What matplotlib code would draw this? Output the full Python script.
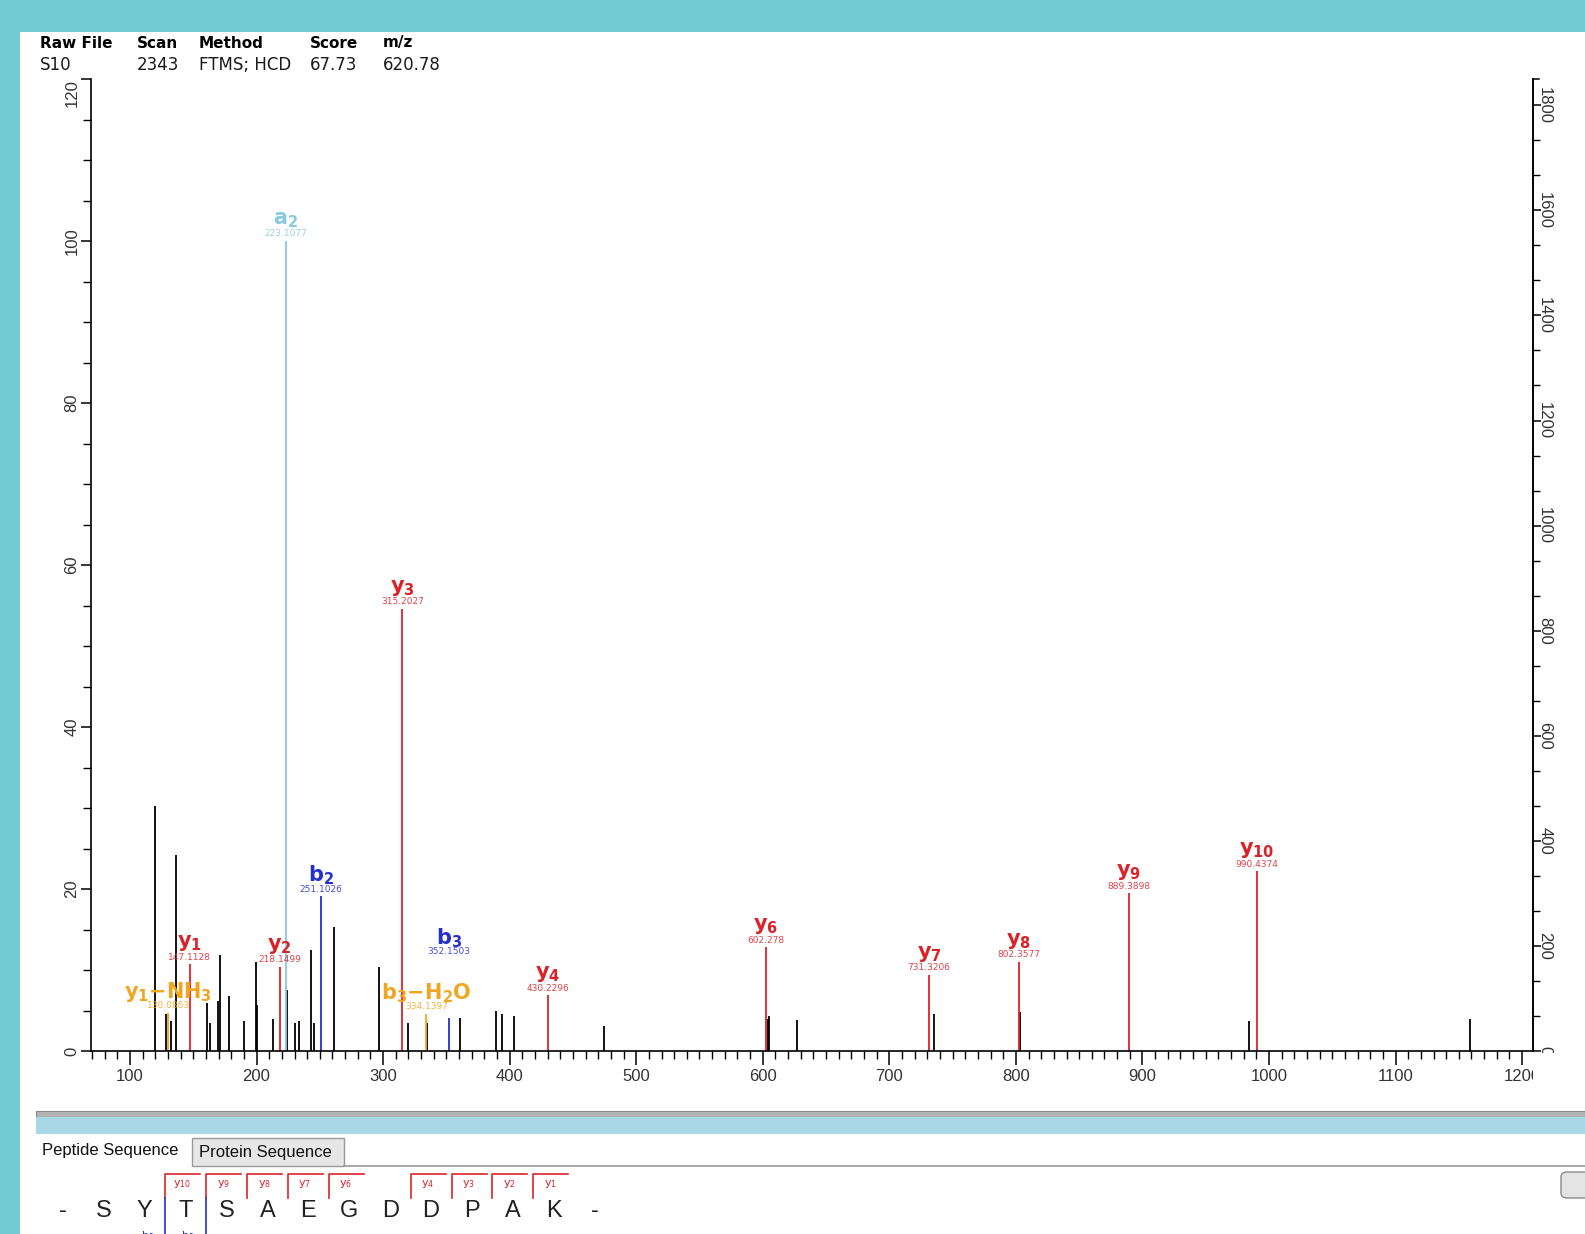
import numpy as np
import matplotlib.pyplot as plt
from matplotlib.patches import Rectangle, FancyBboxPatch
from matplotlib.lines import Line2D
from matplotlib.ticker import MultipleLocator
from matplotlib.transforms import Bbox

W, H = 1585, 1234

### ----- Daten ----- ###
# unbeschriftete Peaks (m/z, relative Intensitaet %)
other_mz = [120.0, 128.4, 132.4, 136.1, 160.8, 163.4, 169.5, 170.8, 178.4, 189.7,
            199.4, 200.5, 213.1, 224.1, 230.4, 233.9, 242.8, 245.2, 261.5, 296.6,
            320.0, 334.7, 360.9, 389.6, 393.6, 403.4, 474.4, 604.3, 605.0, 627.1,
            735.0, 803.3, 984.4, 1158.9]
other_int = [30.2, 4.6, 3.7, 24.2, 5.9, 3.5, 6.2, 11.9, 6.8, 3.7,
             11.0, 5.7, 3.9, 7.5, 3.5, 3.7, 12.5, 3.5, 15.3, 10.4,
             3.5, 3.5, 4.1, 5.0, 4.6, 4.3, 3.1, 4.0, 4.3, 3.8,
             4.6, 4.8, 3.7, 3.9]

# beschriftete Fragmente
ion_names = ['y1-NH3', 'y1', 'y2', 'a2', 'b2', 'y3', 'b3-H2O', 'b3', 'y4',
             'y6', 'y7', 'y8', 'y9', 'y10']
ion_mz = [130.0863, 147.1128, 218.1499, 223.1077, 251.1026, 315.2027, 334.1397,
          352.1503, 430.2296, 602.278, 731.3206, 802.3577, 889.3898, 990.4374]
ion_mz_text = ['130.0863', '147.1128', '218.1499', '223.1077', '251.1026', '315.2027',
               '334.1397', '352.1503', '430.2296', '602.278', '731.3206', '802.3577',
               '889.3898', '990.4374']
ion_int = [4.7, 10.7, 10.4, 100.0, 19.1, 54.6, 4.6, 4.1, 6.9,
           12.8, 9.4, 11.0, 19.5, 22.2]

# Kopfzeile
header_cols = ['Raw File', 'Scan', 'Method', 'Score', 'm/z']
header_vals = ['S10', '2343', 'FTMS; HCD', '67.73', '620.78']

# Peptidsequenz
sequence = ['-', 'S', 'Y', 'T', 'S', 'A', 'E', 'G', 'D', 'D', 'P', 'A', 'K', '-']
y_found = [1, 2, 3, 4, 6, 7, 8, 9, 10]
b_found = [2, 3]

# Farben
col_y = '#DC2229'
col_b = '#2530CC'
col_a = '#86C9E0'
col_loss = '#EFA722'
teal = '#70CBD3'

def ion_color(name):
    if '-' in name:
        return col_loss
    return {'y': col_y, 'b': col_b, 'a': col_a}[name[0]]

def ion_label(name):
    if '-' in name:
        base, loss = name.split('-')
        loss_tex = loss.replace('NH3', r'NH}_{\mathbf{3}}\mathbf{').replace('H2O', r'H}_{\mathbf{2}}\mathbf{O')
        return r'$\mathbf{%s}_{\mathbf{%s}}\mathbf{-%s}$' % (base[0], base[1:], loss_tex)
    return r'$\mathbf{%s}_{\mathbf{%s}}$' % (name[0], name[1:])

def fx(px):
    return px / W

def fy(py):
    return 1 - py / H

plt.rcParams['mathtext.fontset'] = 'dejavusans'

fig = plt.figure(figsize=(W / 100, H / 100), dpi=100)
fig.patch.set_facecolor(teal)
fig.add_artist(Rectangle((fx(20), 0), 1 - fx(20), fy(32), transform=fig.transFigure,
                         facecolor='white', edgecolor='none', zorder=-10))

# --- Hauptachse --- #
ax_left, ax_right, ax_top, ax_bottom = 90.5, 1533, 79, 1051
ax = fig.add_axes([fx(ax_left), fy(ax_bottom), fx(ax_right - ax_left), (ax_bottom - ax_top) / H])
ax.set_facecolor('none')
ax.set_xlim(68.8, 1208.6)
ax.set_ylim(0, 120)

ax.vlines(other_mz, 0, other_int, color='black', linewidth=1.3)
for name, mz, inten, txt in zip(ion_names, ion_mz, ion_int, ion_mz_text):
    c = ion_color(name)
    # b3 sitzt ueber der b3-H2O Beschriftung
    lift = 59 if name == 'b3' else 0
    ax.vlines(mz, 0, inten, color=c, linewidth=1.3)
    ax.annotate(txt, xy=(mz, inten), xytext=(0, 7 + lift), textcoords='offset pixels',
                ha='center', va='center', fontsize=6.5, color=c, alpha=0.85)
    ax.annotate(ion_label(name), xy=(mz, inten), xytext=(0, 21 + lift), textcoords='offset pixels',
                ha='center', va='center', fontsize=15, color=c)

ax.spines['top'].set_visible(False)
for s in ['left', 'bottom', 'right']:
    ax.spines[s].set_linewidth(1.2)

ax.xaxis.set_major_locator(MultipleLocator(100))
ax.xaxis.set_minor_locator(MultipleLocator(10))
ax.yaxis.set_major_locator(MultipleLocator(20))
ax.yaxis.set_minor_locator(MultipleLocator(5))
ax.tick_params(axis='x', which='major', length=10, width=1.1, pad=3, labelsize=12, labelcolor='#333333')
ax.tick_params(axis='x', which='minor', length=6, width=1.0)
ax.tick_params(axis='y', which='major', length=7, width=1.1, pad=1, labelsize=12, labelcolor='#333333')
ax.tick_params(axis='y', which='minor', length=6, width=1.0)
for lab in ax.get_xticklabels() + ax.get_yticklabels():
    lab.set_fontfamily('Liberation Sans')
for lab in ax.get_yticklabels():
    lab.set_rotation(90)
    lab.set_va('center')
# 1200 am rechten Rand abgeschnitten
clip_x = Bbox.from_extents(0, 0, ax_right, H)
for lab in ax.get_xticklabels():
    lab.set_clip_box(clip_x)
    lab.set_clip_on(True)

# --- rechte Achse (absolute Intensitaet) --- #
ax2 = ax.twinx()
ax2.set_ylim(0, 1850)
ax2.yaxis.set_major_locator(MultipleLocator(200))
ax2.yaxis.set_minor_locator(MultipleLocator(200 / 3))
for s in ['top', 'left', 'bottom']:
    ax2.spines[s].set_visible(False)
ax2.spines['right'].set_linewidth(1.2)
ax2.tick_params(axis='y', which='major', length=6, width=1.1, pad=-3, labelsize=12, labelcolor='#333333')
ax2.tick_params(axis='y', which='minor', length=5, width=1.0)
clip_y = Bbox.from_extents(0, H - ax_bottom - 2, W, H)
for lab in ax2.get_yticklabels():
    lab.set_fontfamily('Liberation Sans')
    lab.set_rotation(-90)
    lab.set_va('center')
    lab.set_clip_box(clip_y)
    lab.set_clip_on(True)
# kleiner Haken oben an der rechten Achse
fig.add_artist(Line2D([fx(ax_right), fx(ax_right + 6)], [fy(ax_top), fy(ax_top)],
                      transform=fig.transFigure, color='black', linewidth=1.1))

# --- Kopfzeile --- #
header_x = [40, 137, 199, 310, 383]
for hx, hc, hv in zip(header_x, header_cols, header_vals):
    fig.text(fx(hx), fy(43), hc, fontsize=11, fontweight='bold', family='DejaVu Sans',
             va='center', ha='left', color='black')
    fig.text(fx(hx), fy(65), hv, fontsize=12, family='DejaVu Sans',
             va='center', ha='left', color='#1a1a1a')

# --- unteres Panel --- #
fig.add_artist(Rectangle((fx(36), fy(1117)), 1 - fx(36), 6 / H, transform=fig.transFigure,
                         facecolor='#B5B5B5', edgecolor='#8A8A8A', linewidth=0.8))
fig.add_artist(Rectangle((fx(36), fy(1134)), 1 - fx(36), 17 / H, transform=fig.transFigure,
                         facecolor='#A8D7E6', edgecolor='none'))
fig.add_artist(Line2D([fx(344), 1], [fy(1166), fy(1166)], transform=fig.transFigure,
                      color='#9A9A9A', linewidth=1.2))
fig.add_artist(Rectangle((fx(192), fy(1166)), fx(152), 28 / H, transform=fig.transFigure,
                         facecolor='#E6E6E6', edgecolor='#9A9A9A', linewidth=1.0))
fig.text(fx(42), fy(1151), 'Peptide Sequence', fontsize=12, family='Liberation Sans',
         va='center', ha='left', color='#111111')
fig.text(fx(199), fy(1153), 'Protein Sequence', fontsize=12, family='Liberation Sans',
         va='center', ha='left', color='#111111')
fig.add_artist(FancyBboxPatch((fx(1561), fy(1198)), fx(40), 26 / H, transform=fig.transFigure,
                              boxstyle='round,pad=0,rounding_size=0.004',
                              facecolor='#E4E4E4', edgecolor='#8A8A8A', linewidth=1.0))

seq_x = [63 + 40.9 * i for i in range(len(sequence))]
for sx, aa in zip(seq_x, sequence):
    fig.text(fx(sx), fy(1211), aa, fontsize=17, family='Liberation Sans',
             va='center', ha='center', color='#222222')

n_res = len(sequence) - 2
for n in y_found:
    i = n_res - n
    xb = (seq_x[i] + seq_x[i + 1]) / 2
    fig.add_artist(Line2D([fx(xb), fx(xb), fx(xb + 35)], [fy(1198), fy(1174), fy(1174)],
                          transform=fig.transFigure, color=col_y, linewidth=1.2))
    fig.text(fx(xb + 17), fy(1184), 'y$_{%d}$' % n, fontsize=8, color=col_y,
             va='center', ha='center')
for n in b_found:
    xb = (seq_x[n] + seq_x[n + 1]) / 2
    fig.add_artist(Line2D([fx(xb), fx(xb), fx(xb - 35)], [fy(1198), fy(1250), fy(1250)],
                          transform=fig.transFigure, color=col_b, linewidth=1.2))
    fig.text(fx(xb - 18), fy(1236), 'b$_{%d}$' % n, fontsize=8, color=col_b,
             va='center', ha='center')

# oberste Beschriftung links nach unten ruecken
fig.canvas.draw()
for t in ax.yaxis.get_major_ticks():
    if t.label1.get_text() == '120':
        t.label1.set_va('top')

fig.savefig('out.png', dpi=100, facecolor=fig.get_facecolor())
